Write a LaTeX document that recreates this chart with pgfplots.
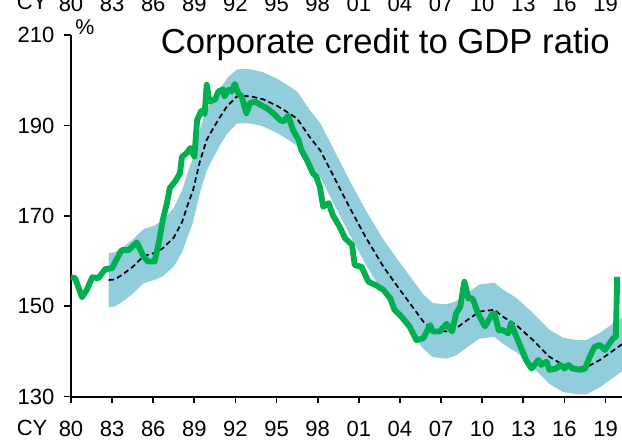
\documentclass[border=0pt]{standalone}
\usepackage{fontspec}
\setmainfont{Liberation Sans}
\usepackage{pgfplots}
\pgfplotsset{compat=1.18}
\usepgfplotslibrary{fillbetween}
\usepackage{pgfplotstable}

\definecolor{credgreen}{HTML}{00B050}
\definecolor{bandblue}{HTML}{92CDDC}

% actual corporate credit / GDP
\pgfplotstableread{
year ratio
1980.0 156.4
1980.3 156.2
1980.8 152.0
1981.15 153.6
1981.55 156.4
1982.0 156.2
1982.5 158.2
1983.0 158.4
1983.3 160.2
1983.7 162.4
1984.2 162.4
1984.8 164.1
1985.3 161.0
1985.6 159.9
1986.1 159.9
1986.4 163.9
1986.7 169.1
1987.0 172.8
1987.2 176.1
1987.6 177.6
1987.95 179.4
1988.1 183.1
1988.45 183.9
1988.7 185.0
1989.0 183.1
1989.2 191.2
1989.5 193.2
1989.75 192.5
1989.9 199.0
1990.1 195.3
1990.5 195.7
1990.75 197.5
1991.1 198.0
1991.2 196.4
1991.5 197.9
1991.7 197.5
1991.95 199.2
1992.2 197.2
1992.45 196.4
1992.8 192.7
1993.05 194.9
1993.4 195.3
1993.8 194.6
1994.3 193.8
1994.75 192.7
1995.25 191.2
1995.5 190.9
1995.85 192.1
1996.2 189.0
1996.6 186.8
1996.8 184.6
1997.2 182.4
1997.65 179.4
1997.9 178.6
1998.15 176.5
1998.4 172.0
1998.8 172.8
1999.1 170.2
1999.6 167.6
2000.0 165.0
2000.5 163.6
2000.7 159.1
2001.2 158.7
2001.7 155.4
2002.2 154.7
2002.8 153.6
2003.3 151.7
2003.6 149.2
2004.1 147.7
2004.7 145.5
2005.2 142.5
2005.7 142.9
2006.2 145.8
2006.4 144.4
2006.9 144.4
2007.4 146.1
2007.8 144.4
2008.1 148.4
2008.4 149.9
2008.7 155.4
2009.0 151.7
2009.3 151.7
2009.7 148.4
2010.2 145.5
2010.7 148.1
2010.9 148.4
2011.2 144.7
2011.5 144.7
2011.9 144.0
2012.1 146.2
2012.5 143.2
2012.9 140.3
2013.2 138.1
2013.6 136.2
2014.1 138.1
2014.3 137.0
2014.7 137.7
2014.9 135.9
2015.4 136.2
2015.7 137.0
2016.0 136.2
2016.3 137.0
2016.6 136.2
2017.2 135.9
2017.5 136.2
2017.85 138.8
2018.2 141.0
2018.6 141.4
2018.95 140.3
2019.3 141.8
2019.55 142.9
2019.75 143.2
2019.85 156.5
}\credit

% trend with band
\pgfplotstableread{
year trend lo hi
1982.75 155.8 149.8 161.8
1983.2 155.9 149.9 161.9
1983.8 157.1 151.1 163.1
1984.5 158.7 152.7 164.7
1985.3 161.1 155.1 167.1
1986.0 161.7 155.7 167.7
1986.7 162.8 156.6 169.0
1987.5 165.2 158.8 171.8
1988.1 168.6 161.9 175.6
1988.5 172.3 165.3 179.5
1988.9 175.6 168.6 182.8
1989.4 182.0 175.0 189.2
1989.9 186.8 180.0 193.6
1990.4 189.5 183.0 196.2
1990.9 192.0 185.8 198.3
1991.4 194.3 188.2 200.5
1992.1 196.4 190.4 202.4
1992.8 196.5 190.5 202.5
1993.3 196.3 190.3 202.3
1994.0 195.8 189.8 201.8
1995.0 194.4 188.4 200.4
1995.7 193.1 187.1 199.1
1996.5 191.5 185.5 197.5
1997.4 187.5 181.5 193.5
1998.2 184.4 178.4 190.4
1999.1 179.1 173.1 185.1
2000.35 171.7 165.7 177.7
2001.55 165.0 159.0 171.0
2002.8 158.7 152.7 164.7
2004.0 153.6 147.6 159.6
2005.0 149.5 143.5 155.5
2005.7 146.6 140.6 152.6
2006.4 144.7 138.7 150.7
2007.4 144.4 138.4 150.4
2008.1 145.1 139.1 151.1
2008.9 146.9 140.9 152.9
2009.8 148.8 142.8 154.8
2010.9 149.2 143.2 155.2
2011.5 147.7 141.7 153.7
2012.5 145.8 139.8 151.8
2013.7 142.5 136.5 148.5
2014.9 138.8 132.8 144.8
2015.9 137.0 131.0 143.0
2016.9 136.5 130.5 142.5
2017.6 136.5 130.5 142.5
2018.6 138.1 132.1 144.1
2019.8 140.7 134.7 146.7
2020.2 141.6 135.6 147.6
}\trend

\pgfplotsset{
  ccstyle/.style={
    width=413.25pt, height=271.1pt,
    scale only axis,
    xmin=1980, xmax=2020.2,
    ymin=130, ymax=210,
    xtick={1980,1983,...,2019},
    xticklabels={80,83,86,89,92,95,98,01,04,07,10,13,16,19},
    tick label style={font=\fontsize{16.5}{19}\selectfont},
    /pgf/number format/assume math mode=true,
  }
}

\begin{document}
\begin{tikzpicture}
\begin{axis}[
    ccstyle,
    axis lines=left,
    axis line style={-, line width=1.5pt},
    tick style={black, line width=1.3pt},
    tick align=outside,
    major tick length=5pt,
    ytick={130,150,...,210},
    yticklabel style={xshift=-4pt},
    xticklabel style={anchor=base, yshift=-25pt},
    clip=false,
]
\addplot[draw=none, name path=hi, forget plot] table[x=year, y=hi] {\trend};
\addplot[draw=none, name path=lo, forget plot] table[x=year, y=lo] {\trend};
\addplot[bandblue, draw=none] fill between[of=hi and lo];
\addplot[black, line width=1.3pt, dash pattern=on 4pt off 2.5pt] table[x=year, y=trend] {\trend};
\addplot[credgreen, line width=4.4pt, line join=round] table[x=year, y=ratio] {\credit};

\node[anchor=south west, font=\fontsize{16}{18}\selectfont, inner sep=0pt]
  at (rel axis cs:0,1) [xshift=3pt, yshift=0pt] {\%};
\node[anchor=base east, font=\fontsize{26}{30}\selectfont, inner sep=0pt]
  at (rel axis cs:1,1) [xshift=-9pt, yshift=-13.7pt] {Corporate credit to GDP ratio};
\node[anchor=base east, font=\fontsize{16.5}{19}\selectfont, inner sep=0pt]
  at (rel axis cs:0,0) [xshift=-17.5pt, yshift=-29.5pt] {CY};
\node[anchor=base east, font=\fontsize{16.5}{19}\selectfont, inner sep=0pt]
  at (rel axis cs:0,1) [xshift=-17.5pt, yshift=19.5pt] {CY};
\end{axis}

% mirrored year labels along the top, mostly outside the page as in the source
\begin{axis}[
    ccstyle,
    axis x line*=top,
    axis y line=none,
    x axis line style={draw=none},
    major tick length=0pt,
    ytick=\empty,
    xticklabel style={anchor=base, yshift=18pt},
]
\end{axis}

\pgfresetboundingbox
\path[use as bounding box] (-53.25pt,-32.6pt) rectangle (413.25pt,297.4pt);
\end{tikzpicture}
\end{document}
